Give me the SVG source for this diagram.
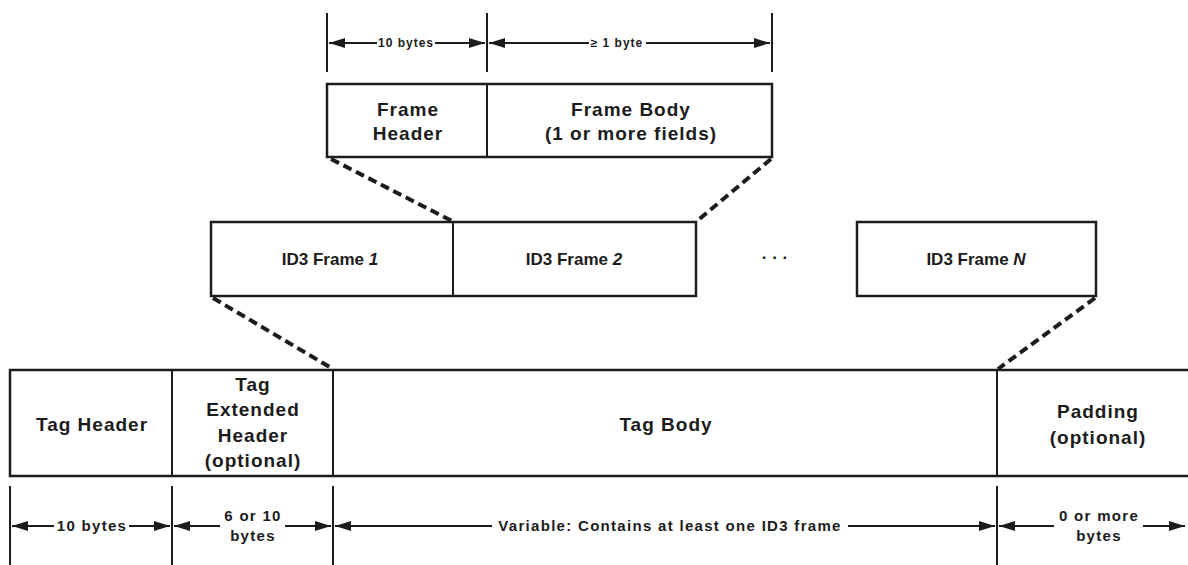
<svg xmlns="http://www.w3.org/2000/svg" width="1188" height="565" viewBox="0 0 1188 565">
<style>
.box{fill:#fff;stroke:#1c1c1c;stroke-width:2.5}
.div{stroke:#1c1c1c;stroke-width:2}
.tick{stroke:#1c1c1c;stroke-width:2}
.dim{stroke:#1c1c1c;stroke-width:1.8;fill:none}
.dash{stroke:#1c1c1c;stroke-width:4;stroke-dasharray:9 5;fill:none}
.t{font-family:"Liberation Sans",Arial,sans-serif;font-weight:bold;font-size:19px;letter-spacing:1px;fill:#1c1c1c;text-anchor:middle}
.f{font-family:"Liberation Sans",Arial,sans-serif;font-weight:bold;font-size:17px;fill:#1c1c1c;text-anchor:middle}
.s{font-family:"Liberation Sans",Arial,sans-serif;font-weight:bold;font-size:15px;letter-spacing:1.3px;fill:#1c1c1c;text-anchor:middle}
.s2{font-family:"Liberation Sans",Arial,sans-serif;font-weight:bold;font-size:12px;letter-spacing:1px;fill:#1c1c1c;text-anchor:middle}
</style>
<defs>
<marker id="ah" markerUnits="userSpaceOnUse" markerWidth="17" markerHeight="12" refX="16" refY="6" orient="auto-start-reverse">
<path d="M0,1 L16,6 L0,11 Z" fill="#1c1c1c"/>
</marker>
</defs>
<rect width="1188" height="565" fill="#fff"/>

<g id="frame">
<rect class="box" x="327" y="84" width="445" height="73"/>
<line class="div" x1="487" y1="84" x2="487" y2="157"/>
<text class="t" x="408" y="116">Frame</text>
<text class="t" x="408" y="140">Header</text>
<text class="t" x="631" y="116">Frame Body</text>
<text class="t" x="631" y="140">(1 or more fields)</text>
</g>

<g id="frame-dims">
<line class="tick" x1="327" y1="13" x2="327" y2="72"/>
<line class="tick" x1="487" y1="13" x2="487" y2="72"/>
<line class="tick" x1="772" y1="13" x2="772" y2="72"/>
<line class="dim" x1="377" y1="43" x2="329" y2="43" marker-end="url(#ah)"/>
<line class="dim" x1="435" y1="43" x2="485" y2="43" marker-end="url(#ah)"/>
<text class="s2" x="406" y="47">10 bytes</text>
<line class="dim" x1="589" y1="43" x2="489" y2="43" marker-end="url(#ah)"/>
<line class="dim" x1="646" y1="43" x2="770" y2="43" marker-end="url(#ah)"/>
<text class="s2" x="617" y="47">≥ 1 byte</text>
</g>

<g id="id3frames">
<rect class="box" x="211" y="222" width="485" height="74"/>
<line class="div" x1="453" y1="222" x2="453" y2="296"/>
<text class="f" x="330" y="265">ID3 Frame <tspan font-style="italic">1</tspan></text>
<text class="f" x="574" y="265">ID3 Frame <tspan font-style="italic">2</tspan></text>
<text class="f" x="775" y="263">· · ·</text>
<rect class="box" x="857" y="222" width="239" height="74"/>
<text class="f" x="976" y="265">ID3 Frame <tspan font-style="italic">N</tspan></text>
</g>

<g id="tag">
<rect class="box" x="10" y="370" width="1190" height="106"/>
<line class="div" x1="172" y1="370" x2="172" y2="476"/>
<line class="div" x1="333" y1="370" x2="333" y2="476"/>
<line class="div" x1="997" y1="370" x2="997" y2="476"/>
<text class="t" x="92" y="431">Tag Header</text>
<text class="t" x="253" y="391">Tag</text>
<text class="t" x="253" y="416">Extended</text>
<text class="t" x="253" y="442">Header</text>
<text class="t" x="253" y="467">(optional)</text>
<text class="t" x="666" y="431">Tag Body</text>
<text class="t" x="1098" y="418">Padding</text>
<text class="t" x="1098" y="444">(optional)</text>
</g>

<g id="tag-dims">
<line class="tick" x1="10" y1="486" x2="10" y2="565"/>
<line class="tick" x1="172" y1="486" x2="172" y2="565"/>
<line class="tick" x1="333" y1="486" x2="333" y2="565"/>
<line class="tick" x1="997" y1="486" x2="997" y2="565"/>
<line class="dim" x1="54" y1="526" x2="12" y2="526" marker-end="url(#ah)"/>
<line class="dim" x1="129" y1="526" x2="170" y2="526" marker-end="url(#ah)"/>
<text class="s" x="92" y="531">10 bytes</text>
<line class="dim" x1="220" y1="526" x2="174" y2="526" marker-end="url(#ah)"/>
<line class="dim" x1="285" y1="526" x2="331" y2="526" marker-end="url(#ah)"/>
<text class="s" x="253" y="521">6 or 10</text>
<text class="s" x="253" y="541">bytes</text>
<line class="dim" x1="492" y1="526" x2="335" y2="526" marker-end="url(#ah)"/>
<line class="dim" x1="848" y1="526" x2="995" y2="526" marker-end="url(#ah)"/>
<text class="s" x="670" y="531">Variable: Contains at least one ID3 frame</text>
<line class="dim" x1="1054" y1="526" x2="999" y2="526" marker-end="url(#ah)"/>
<line class="dim" x1="1143" y1="526" x2="1185" y2="526" marker-end="url(#ah)"/>
<text class="s" x="1099" y="521">0 or more</text>
<text class="s" x="1099" y="541">bytes</text>
</g>

<g id="connectors">
<line class="dash" x1="331" y1="159" x2="452" y2="221"/>
<line class="dash" x1="771" y1="159" x2="697" y2="221"/>
<line class="dash" x1="213" y1="298" x2="333" y2="369"/>
<line class="dash" x1="1095" y1="298" x2="998" y2="369"/>
</g>
</svg>
